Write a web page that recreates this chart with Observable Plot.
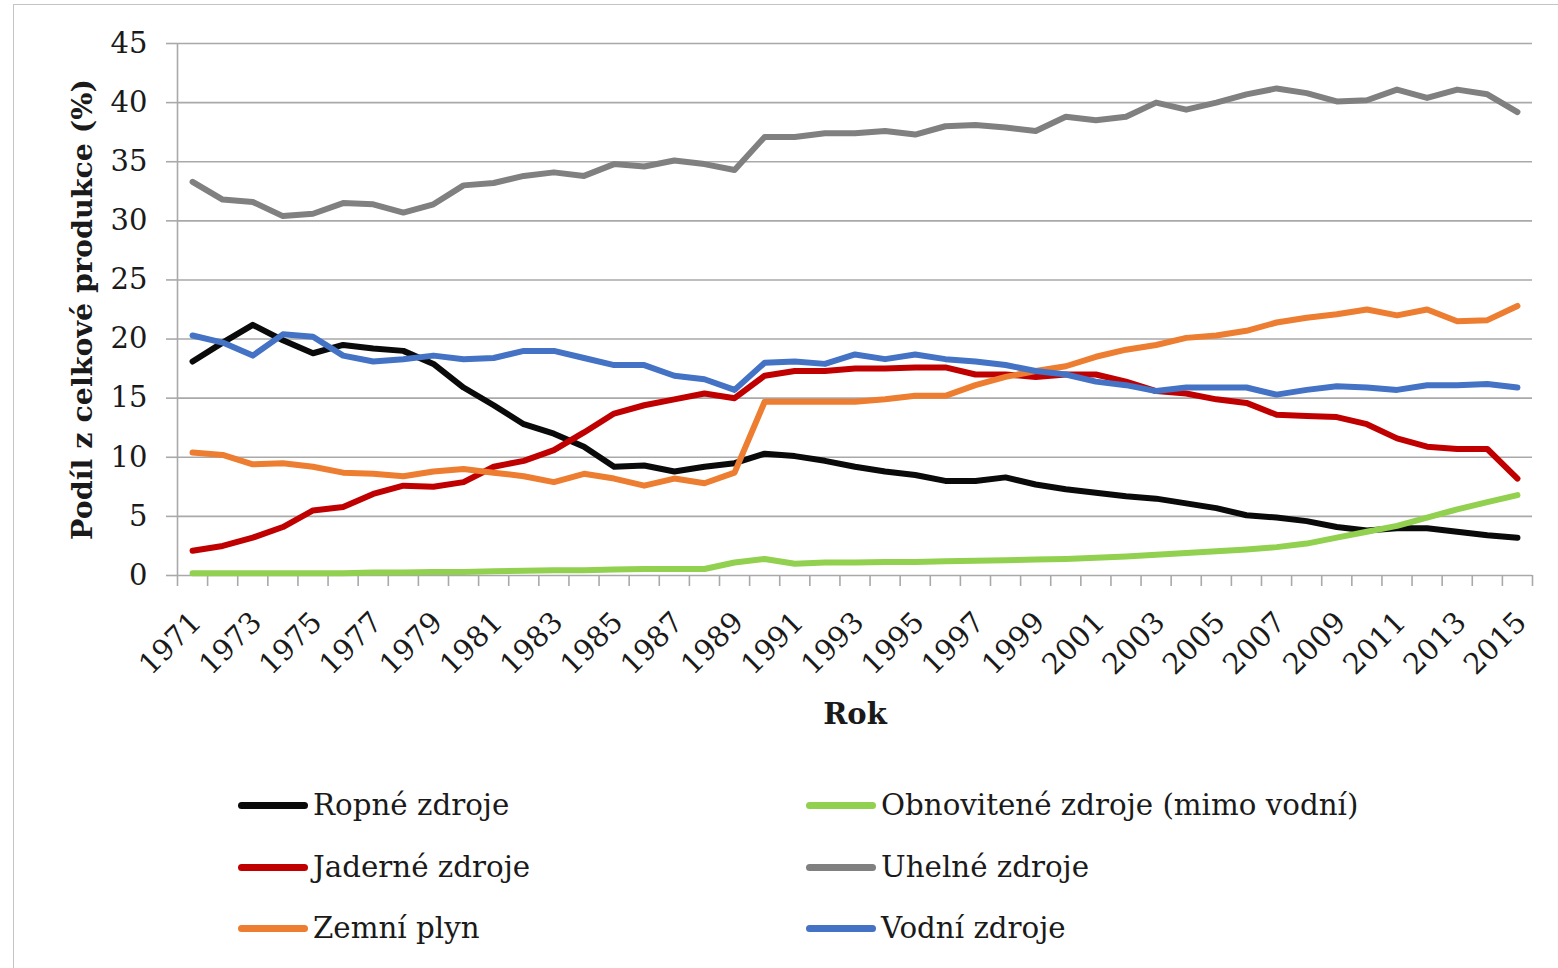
<!DOCTYPE html>
<html>
<head>
<meta charset="utf-8">
<script src="https://cdn.jsdelivr.net/npm/d3@7"></script>
<script src="https://cdn.jsdelivr.net/npm/@observablehq/plot@0.6"></script>
<style>
  html, body { margin: 0; padding: 0; background: #fff; overflow: hidden; }
  #wrap { position: relative; width: 1558px; height: 968px; overflow: hidden; font-family: "DejaVu Serif", serif; }
  #border { position: absolute; left: 13px; top: 4px; width: 1700px; height: 1100px; border: 1.5px solid #c4c4c4; box-sizing: border-box; }
  #chart { position: absolute; left: 0; top: 0; }
  #legend { position: absolute; left: 0; top: 0; width: 1558px; }
  .item { position: absolute; display: flex; align-items: center; height: 40px; color: #1a1a1a; font-size: 29.3px; white-space: nowrap; }
  .sw { width: 70px; height: 7px; border-radius: 4px; margin-right: 5px; }
</style>
</head>
<body>
<div id="wrap">
  <div id="border"></div>
  <div id="chart"></div>
  <div id="legend"></div>
</div>
<script>
const years = [1971,1972,1973,1974,1975,1976,1977,1978,1979,1980,1981,1982,1983,1984,1985,1986,1987,1988,1989,1990,
  1991,1992,1993,1994,1995,1996,1997,1998,1999,2000,2001,2002,2003,2004,2005,2006,2007,2008,2009,2010,2011,2012,2013,2014,2015];
const labelYears = [1971,1973,1975,1977,1979,1981,1983,1985,1987,1989,1991,1993,1995,1997,1999,2001,2003,2005,2007,2009,2011,2013,2015];
const yTicks = [0,5,10,15,20,25,30,35,40,45];

const ropne = [18.1,19.7,21.2,19.9,18.8,19.5,19.2,19.0,17.9,15.9,14.4,12.8,12.0,10.9,9.2,9.3,8.8,9.2,9.5,10.3,
  10.1,9.7,9.2,8.8,8.5,8.0,8.0,8.3,7.7,7.3,7.0,6.7,6.5,6.1,5.7,5.1,4.9,4.6,4.1,3.8,4.0,4.0,3.7,3.4,3.2];
const obnovitelne = [0.2,0.2,0.2,0.2,0.2,0.2,0.25,0.25,0.3,0.3,0.35,0.4,0.45,0.45,0.5,0.55,0.55,0.55,1.1,1.4,
  1.0,1.1,1.1,1.15,1.15,1.2,1.25,1.3,1.35,1.4,1.5,1.6,1.75,1.9,2.05,2.2,2.4,2.7,3.2,3.7,4.2,4.9,5.6,6.2,6.8];
const jaderne = [2.1,2.5,3.2,4.1,5.5,5.8,6.9,7.6,7.5,7.9,9.2,9.7,10.6,12.1,13.7,14.4,14.9,15.4,15.0,16.9,
  17.3,17.3,17.5,17.5,17.6,17.6,17.0,17.0,16.8,17.0,17.0,16.4,15.6,15.4,14.9,14.6,13.6,13.5,13.4,12.8,11.6,10.9,10.7,10.7,8.2];
const uhelne = [33.3,31.8,31.6,30.4,30.6,31.5,31.4,30.7,31.4,33.0,33.2,33.8,34.1,33.8,34.8,34.6,35.1,34.8,34.3,37.1,
  37.1,37.4,37.4,37.6,37.3,38.0,38.1,37.9,37.6,38.8,38.5,38.8,40.0,39.4,40.0,40.7,41.2,40.8,40.1,40.2,41.1,40.4,41.1,40.7,39.2];
const zemniPlyn = [10.4,10.2,9.4,9.5,9.2,8.7,8.6,8.4,8.8,9.0,8.7,8.4,7.9,8.6,8.2,7.6,8.2,7.8,8.7,14.7,
  14.7,14.7,14.7,14.9,15.2,15.2,16.1,16.8,17.3,17.7,18.5,19.1,19.5,20.1,20.3,20.7,21.4,21.8,22.1,22.5,22.0,22.5,21.5,21.6,22.8];
const vodni = [20.3,19.7,18.6,20.4,20.2,18.6,18.1,18.3,18.6,18.3,18.4,19.0,19.0,18.4,17.8,17.8,16.9,16.6,15.7,18.0,
  18.1,17.9,18.7,18.3,18.7,18.3,18.1,17.8,17.3,17.0,16.4,16.1,15.6,15.9,15.9,15.9,15.3,15.7,16.0,15.9,15.7,16.1,16.1,16.2,15.9];

const seriesNames = ["Ropné zdroje","Obnovitené zdroje (mimo vodní)","Jaderné zdroje","Uhelné zdroje","Zemní plyn","Vodní zdroje"];
const seriesColors = ["#0a0a0a","#92d050","#c00000","#808080","#ed7d31","#4472c4"];
const seriesValues = [ropne, obnovitelne, jaderne, uhelne, zemniPlyn, vodni];

const xTitle = "Rok";
const yTitle = "Podíl z celkové produkce (%)";

const data = seriesNames.flatMap((name, k) => years.map((year, i) => ({year, value: seriesValues[k][i], name})));
const xDomain = [years[0] - 0.5, years[years.length - 1] + 0.5];
const yDomain = [yTicks[0], yTicks[yTicks.length - 1]];
const boundaries = years.map(y => y - 0.5).concat([years[years.length - 1] + 0.5]);

const gridColor = "#a9a9a9";
const textColor = "#1a1a1a";

const plot = Plot.plot({
  width: 1558,
  height: 760,
  marginLeft: 177,
  marginRight: 26,
  marginTop: 43,
  marginBottom: 185,
  style: { fontFamily: "DejaVu Serif", background: "transparent", overflow: "visible" },
  x: { type: "linear", domain: xDomain, axis: null },
  y: { domain: yDomain, axis: null },
  color: { domain: seriesNames, range: seriesColors },
  marks: [
    Plot.gridY(yTicks, { stroke: gridColor, strokeOpacity: 1, strokeWidth: 1.6 }),
    Plot.axisY(yTicks, { tickSize: 11, tickPadding: 19, stroke: gridColor, strokeWidth: 1.6, fill: textColor, fontSize: 29, label: null, tickFormat: d => String(d) }),
    Plot.ruleX([xDomain[0]], { y1: yDomain[0], y2: yDomain[1], stroke: gridColor, strokeWidth: 1.6 }),
    Plot.axisX(boundaries, { tickSize: 11, stroke: gridColor, strokeWidth: 1.6, tickFormat: () => "", label: null }),
    Plot.text(labelYears, { x: d => d, frameAnchor: "bottom", text: d => String(d), rotate: -45, textAnchor: "end", lineAnchor: "middle", dx: 4, dy: 42, fontSize: 29, fill: textColor }),
    Plot.line(data, { x: "year", y: "value", z: "name", stroke: "name", strokeWidth: 6, strokeLinejoin: "round", strokeLinecap: "round" }),
    Plot.text([xTitle], { frameAnchor: "bottom", textAnchor: "middle", lineAnchor: "middle", dy: 139, text: d => d, fontWeight: "bold", fontSize: 29, fill: textColor }),
    Plot.text([yTitle], { frameAnchor: "left", textAnchor: "middle", lineAnchor: "middle", dx: -95, rotate: -90, text: d => d, fontWeight: "bold", fontSize: 28.5, fill: textColor })
  ]
});
document.getElementById("chart").appendChild(plot);

// Legend (Excel-like, two columns, row-major order)
const legend = document.getElementById("legend");
const colLeft = [238, 806];
const rowTop = [785, 847, 908];
seriesNames.forEach((name, k) => {
  const item = document.createElement("div");
  item.className = "item";
  item.style.left = colLeft[k % 2] + "px";
  item.style.top = rowTop[Math.floor(k / 2)] + "px";
  const sw = document.createElement("div");
  sw.className = "sw";
  sw.style.background = seriesColors[k];
  const label = document.createElement("span");
  label.textContent = name;
  item.appendChild(sw);
  item.appendChild(label);
  legend.appendChild(item);
});
</script>
</body>
</html>
